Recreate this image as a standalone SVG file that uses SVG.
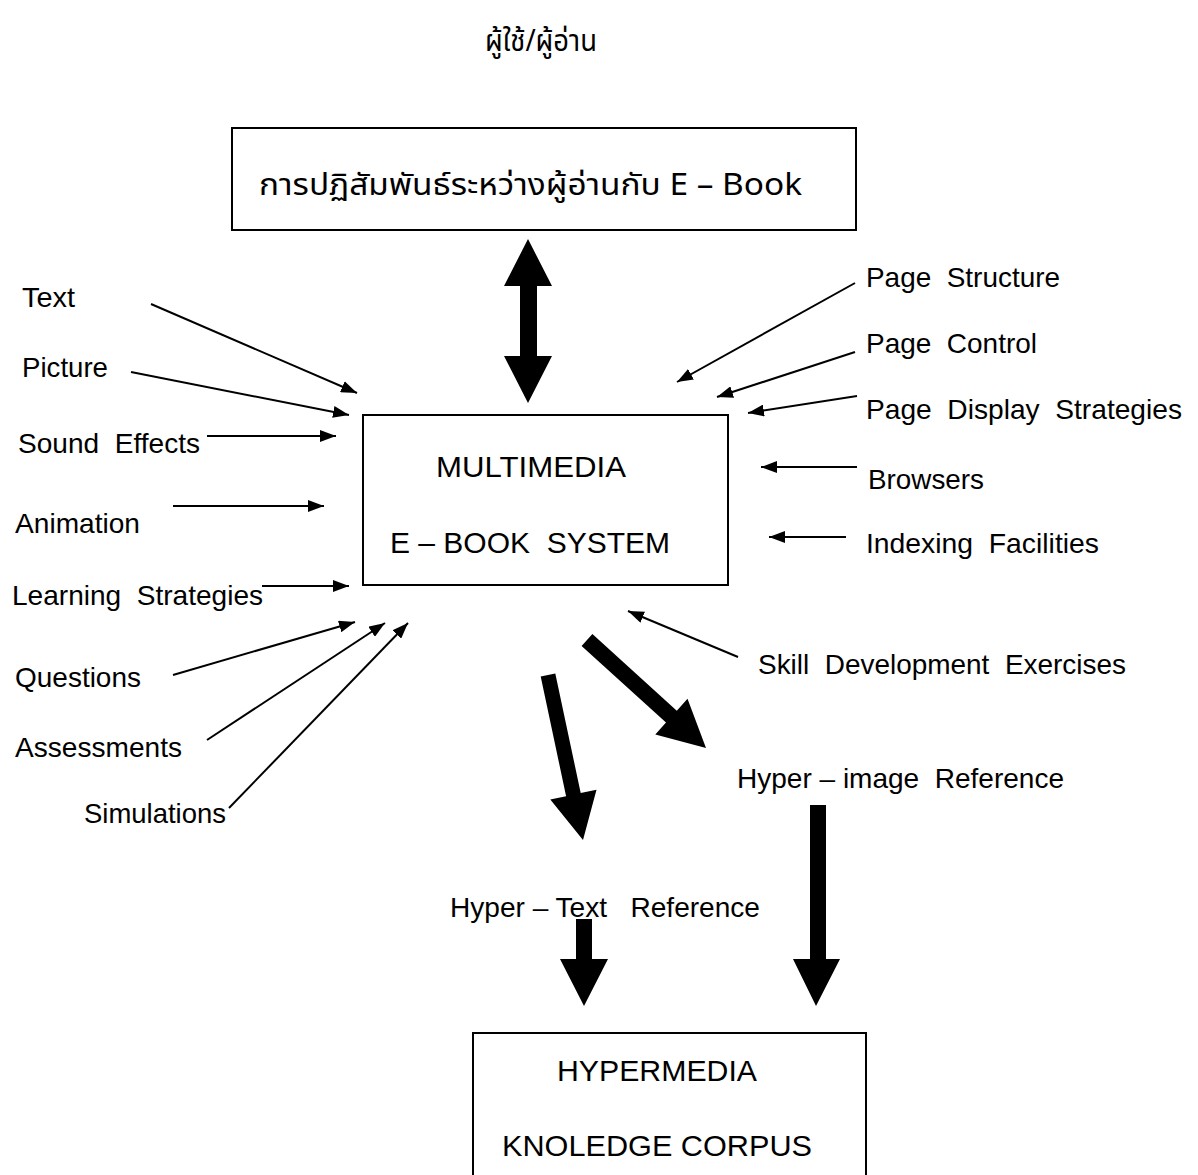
<svg xmlns="http://www.w3.org/2000/svg" width="1198" height="1175" viewBox="0 0 1198 1175">
<style>
text{font-family:"Liberation Sans","Noto Sans",Arial,sans-serif;font-size:28px;fill:#000;white-space:pre}
.th{font-family:"Noto Sans Thai","Noto Sans","DejaVu Sans","Liberation Sans",sans-serif;font-size:30px}
.bx{font-size:30px}
.box{fill:#fff;stroke:#000;stroke-width:2}
.ln{stroke:#000;stroke-width:2;fill:none;marker-end:url(#ah)}
.big{fill:#000}
</style>
<defs>
<marker id="ah" viewBox="0 0 16 12" refX="16" refY="6" markerWidth="16" markerHeight="12" markerUnits="userSpaceOnUse" orient="auto">
<path d="M0,0 L16,6 L0,12 Z" fill="#000"/>
</marker>
</defs>
<rect width="1198" height="1175" fill="#fff"/>

<g id="title"><text class="th" x="485" y="51" textLength="112" lengthAdjust="spacingAndGlyphs">ผู้ใช้/ผู้อ่าน</text></g>

<g id="interaction">
<rect class="box" x="232" y="128" width="624" height="102"/>
<text class="th" x="259" y="195" textLength="543" lengthAdjust="spacingAndGlyphs">การปฏิสัมพันธ์ระหว่างผู้อ่านกับ E – Book</text>
</g>

<g id="multimedia">
<rect class="box" x="363" y="415" width="365" height="170"/>
<text class="bx" x="436" y="477" textLength="190" lengthAdjust="spacingAndGlyphs">MULTIMEDIA</text>
<text class="bx" x="390" y="553" textLength="280" lengthAdjust="spacingAndGlyphs" xml:space="preserve">E – BOOK  SYSTEM</text>
</g>

<g id="hypermedia">
<rect class="box" x="473" y="1033" width="393" height="160"/>
<text class="bx" x="557" y="1081" textLength="200" lengthAdjust="spacingAndGlyphs">HYPERMEDIA</text>
<text class="bx" x="502" y="1156" textLength="310" lengthAdjust="spacingAndGlyphs">KNOLEDGE CORPUS</text>
</g>

<g id="labels" xml:space="preserve">
<text x="22" y="307" textLength="53" lengthAdjust="spacingAndGlyphs">Text</text>
<text x="22" y="377" textLength="86" lengthAdjust="spacingAndGlyphs">Picture</text>
<text x="18" y="453" textLength="182" lengthAdjust="spacingAndGlyphs">Sound  Effects</text>
<text x="15" y="533" textLength="125" lengthAdjust="spacingAndGlyphs">Animation</text>
<text x="12" y="605" textLength="251" lengthAdjust="spacingAndGlyphs">Learning  Strategies</text>
<text x="15" y="687" textLength="126" lengthAdjust="spacingAndGlyphs">Questions</text>
<text x="15" y="757" textLength="167" lengthAdjust="spacingAndGlyphs">Assessments</text>
<text x="84" y="823" textLength="142" lengthAdjust="spacingAndGlyphs">Simulations</text>
<text x="866" y="287" textLength="194" lengthAdjust="spacingAndGlyphs">Page  Structure</text>
<text x="866" y="353" textLength="171" lengthAdjust="spacingAndGlyphs">Page  Control</text>
<text x="866" y="419" textLength="316" lengthAdjust="spacingAndGlyphs">Page  Display  Strategies</text>
<text x="868" y="489" textLength="116" lengthAdjust="spacingAndGlyphs">Browsers</text>
<text x="866" y="553" textLength="233" lengthAdjust="spacingAndGlyphs">Indexing  Facilities</text>
<text x="758" y="674" textLength="368" lengthAdjust="spacingAndGlyphs">Skill  Development  Exercises</text>
<text x="737" y="788" textLength="327" lengthAdjust="spacingAndGlyphs">Hyper – image  Reference</text>
<text x="450" y="917" textLength="310" lengthAdjust="spacingAndGlyphs">Hyper – Text   Reference</text>
</g>

<g id="connectors">
<line class="ln" x1="151" y1="304" x2="357" y2="393"/>
<line class="ln" x1="131" y1="372" x2="349" y2="415"/>
<line class="ln" x1="207" y1="436" x2="336" y2="436"/>
<line class="ln" x1="173" y1="506" x2="324" y2="506"/>
<line class="ln" x1="262" y1="586" x2="349" y2="586"/>
<line class="ln" x1="173" y1="675" x2="355" y2="622"/>
<line class="ln" x1="207" y1="740" x2="385" y2="623"/>
<line class="ln" x1="229" y1="808" x2="408" y2="623"/>
<line class="ln" x1="855" y1="283" x2="677" y2="382"/>
<line class="ln" x1="855" y1="352" x2="717" y2="397"/>
<line class="ln" x1="857" y1="396" x2="748" y2="413"/>
<line class="ln" x1="857" y1="467" x2="761" y2="467"/>
<line class="ln" x1="846" y1="537" x2="769" y2="537"/>
<line class="ln" x1="738" y1="657" x2="628" y2="611"/>
<polygon class="big" points="528,239 552,286 537,286 537,356 552,356 528,403 504,356 520,356 520,286 504,286"/>
<polygon class="big" points="592.4,634.1 676.8,710.7 687.5,698.8 706,748 655.3,734.4 666,722.5 581.6,645.9"/>
<polygon class="big" points="555.3,673.4 580.7,793 596.5,789.7 583,840 550.3,799.5 566.1,796.2 540.7,676.6"/>
<polygon class="big" points="576,919 592,919 592,959 608,959 584,1006 560,959 576,959"/>
<polygon class="big" points="810,805 826,805 826,959 840,959 816,1006 793,959 810,959"/>
</g>
</svg>
